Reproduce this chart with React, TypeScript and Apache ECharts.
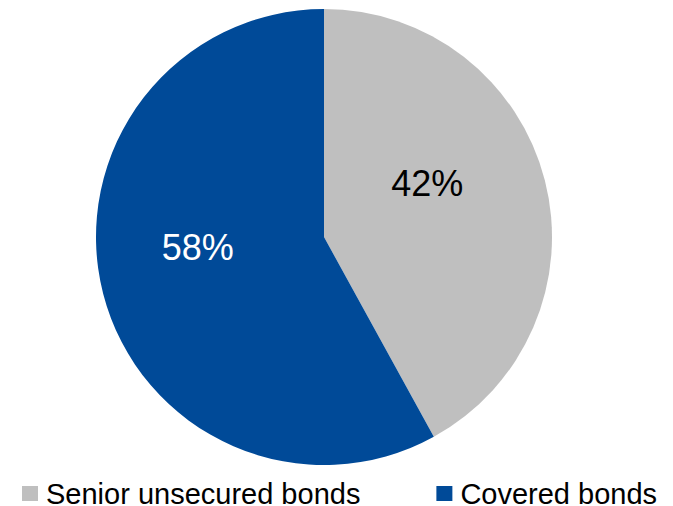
import React, { useEffect, useRef } from "react";
import * as echarts from "echarts";

const categories = ["Senior unsecured bonds", "Covered bonds"];
const values = [42, 58];
const colors = ["#BFBFBF", "#004A98"];
const labelColors = ["#000000", "#FFFFFF"];
const labelShifts = [
  [-10, -24],
  [-13, -19],
];

export default function App() {
  const ref = useRef<HTMLDivElement>(null);
  useEffect(() => {
    if (!ref.current) return;
    const chart = echarts.init(ref.current, undefined, { renderer: "svg" });
    chart.setOption({
      animation: false,
      backgroundColor: "#FFFFFF",
      legend: {
        left: 22,
        top: 479,
        itemWidth: 16,
        itemHeight: 15,
        itemGap: 76,
        icon: "rect",
        padding: 0,
        textStyle: {
          fontFamily: "Liberation Sans, Arial",
          fontSize: 29,
          color: "#000000",
          padding: [0, 0, 0, 3],
        },
        data: categories,
      },
      series: [
        {
          type: "pie",
          center: [324, 237],
          radius: 228,
          startAngle: 90,
          clockwise: true,
          avoidLabelOverlap: false,
          label: {
            show: true,
            position: "inside",
            formatter: "{c}%",
            fontFamily: "Liberation Sans, Arial",
            fontSize: 36,
          },
          labelLayout: (p: any) => ({
            dx: labelShifts[p.dataIndex][0],
            dy: labelShifts[p.dataIndex][1],
          }),
          labelLine: { show: false },
          emphasis: { disabled: true },
          data: categories.map((name, i) => ({
            name,
            value: values[i],
            itemStyle: { color: colors[i] },
            label: { color: labelColors[i] },
          })),
        },
      ],
    });
    return () => chart.dispose();
  }, []);
  return (
    <div
      ref={ref}
      style={{ position: "fixed", left: 0, top: 0, width: 673, height: 506 }}
    />
  );
}
